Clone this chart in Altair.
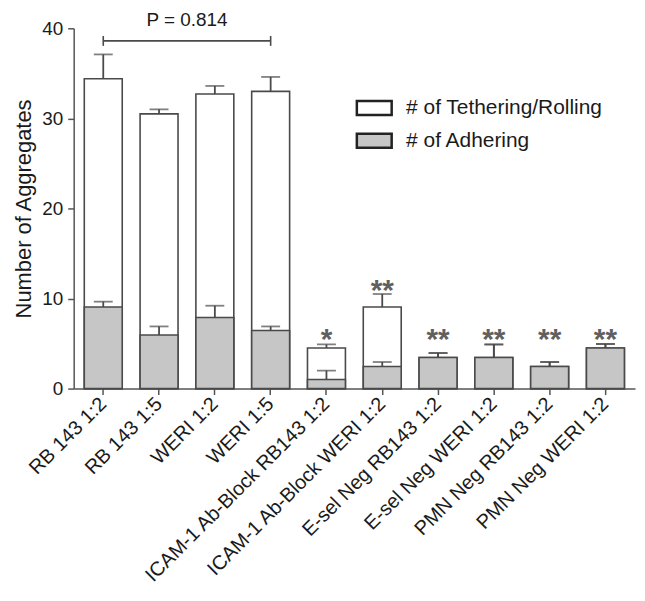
import altair as alt
import pandas as pd

categories = [
    "RB 143 1:2", "RB 143 1:5", "WERI 1:2", "WERI 1:5",
    "ICAM-1 Ab-Block RB143 1:2", "ICAM-1 Ab-Block WERI 1:2",
    "E-sel Neg RB143 1:2", "E-sel Neg WERI 1:2",
    "PMN Neg RB143 1:2", "PMN Neg WERI 1:2",
]
total_mean = [34.4, 30.5, 32.7, 33.0, 4.5, 9.05, 3.45, 3.45, 2.45, 4.5]
total_sem = [2.7, 0.5, 0.9, 1.6, 0.4, 1.45, 0.5, 1.45, 0.5, 0.45]
adhering_mean = [9.05, 5.95, 7.9, 6.45, 1.0, 2.45, 3.45, 3.45, 2.45, 4.5]
adhering_sem = [0.6, 0.95, 1.3, 0.45, 1.0, 0.5, 0.5, 1.45, 0.5, 0.45]
stars = ["", "", "", "", "*", "**", "**", "**", "**", "**"]
star_level = [None, None, None, None, 6.3, 11.7, 6.3, 6.3, 6.3, 6.3]
series_names = ["# of Tethering/Rolling", "# of Adhering"]
series_colors = ["#ffffff", "#c6c6c6"]
p_label = "P = 0.814"
bracket_level = 38.6
bracket_half = 0.55
y_ticks = [0, 10, 20, 30, 40]

FONT = "Liberation Sans"
INK = "#1a1a1a"
EDGE = "#4a4a4a"

rows = []
for i, c in enumerate(categories):
    rows.append({"cat": c, "series": series_names[0], "value": total_mean[i],
                 "hi": total_mean[i] + total_sem[i]})
for i, c in enumerate(categories):
    rows.append({"cat": c, "series": series_names[1], "value": adhering_mean[i],
                 "hi": adhering_mean[i] + adhering_sem[i]})
bars_df = pd.DataFrame(rows)

star_df = pd.DataFrame({"cat": categories, "star": stars, "level": star_level}).dropna()

bracket_df = pd.DataFrame({"a": [categories[0]], "b": [categories[3]], "y": [bracket_level]})
bracket_ends = pd.DataFrame({
    "cat": [categories[0], categories[3]],
    "lo": [bracket_level - bracket_half] * 2,
    "hi": [bracket_level + bracket_half] * 2,
})
p_df = pd.DataFrame({"cat": [categories[1]], "y": [bracket_level], "t": [p_label]})

xscale = alt.Scale(domain=categories, paddingInner=0.32, paddingOuter=0.19)
yscale = alt.Scale(domain=[0, 40], nice=False)

x_enc = alt.X("cat:N", scale=xscale, sort=categories,
              axis=alt.Axis(title=None, labelAngle=-45, labelAlign="right",
                            labelBaseline="middle", labelFontSize=20,
                            labelPadding=6, tickSize=6, labelLimit=400))
y_axis = alt.Axis(title="Number of Aggregates", values=y_ticks, labelFontSize=19,
                  titleFontSize=22, titleFontWeight="normal", tickSize=6,
                  labelPadding=5, titlePadding=6, grid=False)

base = alt.Chart(bars_df)

bars = base.mark_bar(stroke=EDGE, strokeWidth=1.6).encode(
    x=x_enc,
    y=alt.Y("value:Q", scale=yscale, axis=y_axis, stack=None),
    color=alt.Color("series:N",
                    scale=alt.Scale(domain=series_names, range=series_colors),
                    legend=alt.Legend(title=None, orient="none", legendX=283, legendY=61,
                                      symbolType="M-1,-0.4H1V0.4H-1Z", symbolSize=1225,
                                      symbolStrokeColor="#222222", symbolStrokeWidth=2.5,
                                      labelFontSize=21, labelFont=FONT, labelColor=INK,
                                      labelOffset=13, rowPadding=2, labelLimit=400)),
    order=alt.Order("series:N", sort="descending"),
)

err_rule = base.mark_rule(color=EDGE, strokeWidth=1.8).encode(
    x=alt.X("cat:N", scale=xscale, sort=categories),
    y=alt.Y("value:Q", scale=yscale),
    y2="hi:Q",
)
err_cap = base.mark_tick(color=EDGE, size=19, thickness=1.8).encode(
    x=alt.X("cat:N", scale=xscale, sort=categories),
    y=alt.Y("hi:Q", scale=yscale),
)

star_text = alt.Chart(star_df).mark_text(
    font=FONT, fontWeight="bold", fontSize=30, color="#606060",
    baseline="alphabetic", dy=17,
).encode(
    x=alt.X("cat:N", scale=xscale, sort=categories),
    y=alt.Y("level:Q", scale=yscale),
    text="star:N",
)

bracket = alt.Chart(bracket_df).mark_rule(color=EDGE, strokeWidth=1.6).encode(
    x=alt.X("a:N", scale=xscale, sort=categories),
    x2="b:N",
    y=alt.Y("y:Q", scale=yscale),
)
bracket_tick = alt.Chart(bracket_ends).mark_rule(color=EDGE, strokeWidth=1.6).encode(
    x=alt.X("cat:N", scale=xscale, sort=categories),
    y=alt.Y("lo:Q", scale=yscale),
    y2="hi:Q",
)
p_text = alt.Chart(p_df).mark_text(
    font=FONT, fontSize=19, color=INK, baseline="middle", dx=28, dy=-21,
).encode(
    x=alt.X("cat:N", scale=xscale, sort=categories),
    y=alt.Y("y:Q", scale=yscale),
    text="t:N",
)

chart = alt.layer(
    bars, err_rule, err_cap, star_text, bracket, bracket_tick, p_text
).properties(
    width=564, height=362,
    autosize=alt.AutoSizeParams(type="none"),
    padding={"left": 66, "top": 19, "right": 2, "bottom": 205},
).configure_view(stroke=None).configure_axis(
    labelFont=FONT, titleFont=FONT, labelColor=INK, titleColor=INK,
    domainColor="#555555", domainWidth=1.5, tickColor="#555555", tickWidth=1.5,
)

chart.save("out.html", embed_options={"renderer": "svg", "actions": False})
